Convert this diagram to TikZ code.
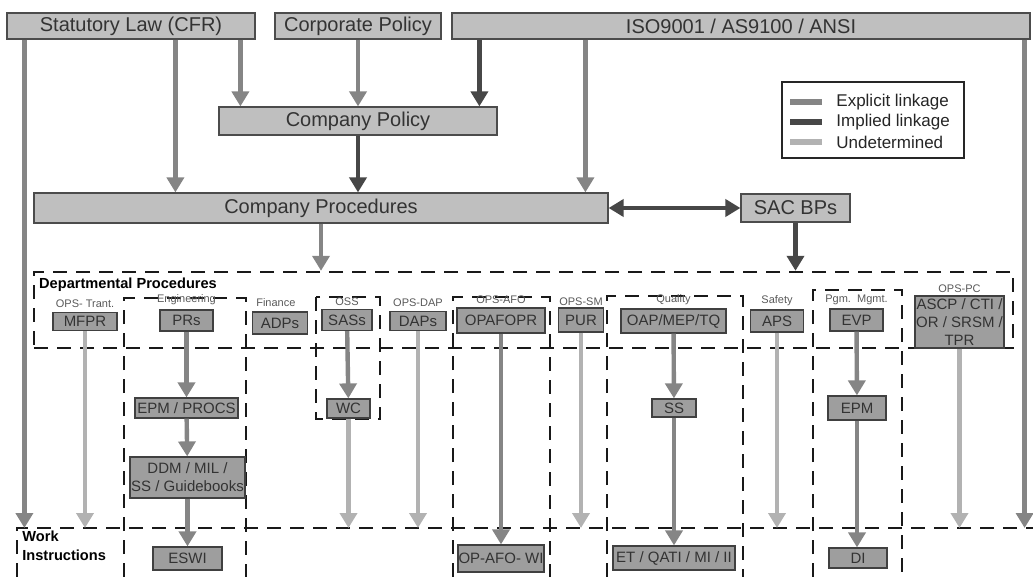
\documentclass[tikz,border=0pt]{standalone}
\usepackage{fontspec}
\setmainfont{Liberation Sans}
\usepackage{tikz}
\usetikzlibrary{arrows.meta}
\usetikzlibrary{positioning}
\tikzstyle{topbox}=[draw=black!70,fill=black!25,line width=0.6pt,inner sep=0pt,text=black!80,font=\fontsize{10}{12}\selectfont]
\tikzstyle{deptbox}=[draw=black!75,fill=black!38,line width=0.6pt,inner sep=0pt,text=black!80,align=center,font=\fontsize{7.5}{9}\selectfont]
\tikzstyle{deptname}=[inner sep=0pt,text=black!65,font=\fontsize{5.5}{6}\selectfont]
\tikzstyle{regionname}=[inner sep=0pt,align=left,font=\bfseries\fontsize{7.3}{9.5}\selectfont]
\tikzstyle{region}=[draw=black!90,line width=1.2pt,dash pattern=on 7pt off 4.5pt]
\tikzstyle{legendbox}=[draw=black!85,fill=white,line width=0.6pt,inner sep=0pt]
\tikzstyle{legendtext}=[inner sep=0pt,text=black!85,font=\fontsize{8.5}{10}\selectfont]
\tikzstyle{explicit}=[->,>={Triangle[width=8.5pt,length=7.5pt]},draw=black!48,line width=2.2pt]
\tikzstyle{implied}=[->,>={Triangle[width=8.5pt,length=7.5pt]},draw=black!72,line width=2.2pt]
\tikzstyle{undet}=[->,>={Triangle[width=8.5pt,length=7.5pt]},draw=black!30,line width=2.2pt]
\begin{document}
\begin{tikzpicture}[x=0.5pt,y=-0.5pt]
\useasboundingbox (0,0) rectangle (1033,577);
%Regions
\node[region,minimum width=489.5pt,minimum height=38pt] (dept) at (523.5,310) {};
\node[regionname,anchor=north west] (deptlabel) at ([xshift=3pt,yshift=-3.5pt]dept.north west) {Departmental Procedures};
\coordinate (wi) at (17,528);
\draw[region] (17,577) -- (wi) -- (1033,528);
\node[regionname,anchor=north west] (wilabel) at (22,531) {Work\\Instructions};
\draw[region] (124,577) -- (124,298) -- (246,298) -- (246,577);
\draw[region] (316,297) rectangle (380,419);
\draw[region] (453,577) -- (453,297) -- (550,297) -- (550,577);
\draw[region] (607,577) -- (607,296) -- (743,296) -- (743,577);
\draw[region] (813,577) -- (813,290) -- (902,290) -- (902,577);
%Top
\node[topbox,minimum width=124pt,minimum height=13pt] (stat) at (131,26) {Statutory Law (CFR)};
\node[topbox,minimum width=83pt,minimum height=13pt] (corp) at (358,26) {Corporate Policy};
\node[topbox,minimum width=289pt,minimum height=13pt] (iso) at (741,26) {ISO9001 / AS9100 / ANSI};
\node[topbox,minimum width=139pt,minimum height=14pt] (cpol) at (358,121) {Company Policy};
\node[topbox,minimum width=287pt,minimum height=15pt] (cproc) at (321,208) {Company Procedures};
\node[topbox,minimum width=54.5pt,minimum height=14pt] (sac) at (795.5,208) {SAC BPs};
%Legend
\node[legendbox,minimum width=91pt,minimum height=38pt] (legend) at (873,120) {};
\draw[draw=black!48,line width=3pt] (790,102) -- (822,102);
\draw[draw=black!72,line width=3pt] (790,122) -- (822,122);
\draw[draw=black!30,line width=3pt] (790,142) -- (822,142);
\node[legendtext,anchor=west] (lexplicit) at (836,102) {Explicit linkage};
\node[legendtext,anchor=west] (limplied) at (836,122) {Implied linkage};
\node[legendtext,anchor=west] (lundet) at (836,142) {Undetermined};
%Departments
\node[deptbox,minimum width=32pt,minimum height=9pt] (mfpr) at (85,321.5) {MFPR};
\node[deptbox,minimum width=26.5pt,minimum height=10.5pt] (prs) at (186.5,320.5) {PRs};
\node[deptbox,minimum width=27.5pt,minimum height=11pt] (adps) at (280,323) {ADPs};
\node[deptbox,minimum width=25pt,minimum height=10.5pt] (sass) at (347,320) {SASs};
\node[deptbox,minimum width=28pt,minimum height=9.5pt] (daps) at (418,321) {DAPs};
\node[deptbox,minimum width=44pt,minimum height=12.5pt] (opafopr) at (501,320.5) {OPAFOPR};
\node[deptbox,minimum width=22.5pt,minimum height=12pt] (pur) at (581,320) {PUR};
\node[deptbox,minimum width=52.5pt,minimum height=12pt] (oap) at (673.5,321) {OAP/MEP/TQ};
\node[deptbox,minimum width=26.5pt,minimum height=11pt] (aps) at (777,321) {APS};
\node[deptbox,minimum width=26.5pt,minimum height=11pt] (evp) at (856.5,320) {EVP};
\node[deptbox,minimum width=44.5pt,minimum height=26pt] (ascp) at (959.5,322) {ASCP / CTI /\\OR / SRSM /\\TPR};
\node[deptname,above=2pt of mfpr] (opstrant) {OPS- Trant.};
\node[deptname,above=2pt of prs] (eng) {Engineering};
\node[deptname,anchor=south west] (fin) at ([xshift=2pt,yshift=2pt]adps.north west) {Finance};
\node[deptname,above=1.5pt of sass] (oss) {OSS};
\node[deptname,above=2pt of daps] (opsdap) {OPS-DAP};
\node[deptname,above=1.5pt of opafopr] (opsafo) {OPS-AFO};
\node[deptname,above=0.5pt of pur] (opssm) {OPS-SM};
\node[deptname,above=1.5pt of oap] (quality) {Quality};
\node[deptname,above=1.5pt of aps] (safety) {Safety};
\node[deptname,above=1.5pt of evp] (pgm) {Pgm.\ \ Mgmt.};
\node[deptname,above=1pt of ascp] (opspc) {OPS-PC};
%Second level
\node[deptbox,minimum width=51.5pt,minimum height=10pt] (epmprocs) at (186.5,408) {EPM / PROCS};
\node[deptbox,minimum width=57.5pt,minimum height=20.5pt] (ddm) at (187.5,477.5) {DDM / MIL /\\SS / Guidebooks};
\node[deptbox,minimum width=34.5pt,minimum height=11.5pt] (eswi) at (187.5,558.5) {ESWI};
\node[deptbox,minimum width=21.5pt,minimum height=9.5pt] (wc) at (348.5,408.5) {WC};
\node[deptbox,minimum width=43pt,minimum height=13.5pt] (opafowi) at (501,558.5) {OP-AFO- WI};
\node[deptbox,minimum width=22pt,minimum height=9pt] (ss) at (674,408) {SS};
\node[deptbox,minimum width=61pt,minimum height=12pt] (et) at (674,558) {ET / QATI / MI / II};
\node[deptbox,minimum width=29pt,minimum height=12pt] (epm) at (857,408) {EPM};
\node[deptbox,minimum width=29pt,minimum height=10pt] (di) at (858,558) {DI};
%Arrows
\draw[explicit] ([xshift=9pt]stat.south west) coordinate (s1) -- (s1 |- wi);
\draw[explicit] ([xshift=84.5pt]stat.south west) coordinate (s2) -- (s2 |- cproc.north);
\draw[explicit] ([xshift=117pt]stat.south west) coordinate (s3) -- (s3 |- cpol.north);
\draw[explicit] (corp) -- (cpol);
\draw[implied] ([xshift=14pt]iso.south west) coordinate (i1) -- (i1 |- cpol.north);
\draw[explicit] ([xshift=67pt]iso.south west) coordinate (i2) -- (i2 |- cproc.north);
\draw[explicit] ([xshift=-3pt]iso.south east) coordinate (i3) -- (i3 |- wi);
\draw[implied] (cpol) -- (cpol |- cproc.north);
\draw[explicit] (cproc.south) -- (cproc.south |- dept.north);
\draw[implied] (sac.south) -- (sac.south |- dept.north);
\draw[implied,<->,line width=2pt] (cproc.east) -- (sac.west);
\draw[undet] (mfpr.south) -- (mfpr.south |- wi);
\draw[explicit] (prs) -- (epmprocs);
\draw[explicit] (epmprocs) -- (ddm);
\draw[explicit] (ddm) -- (eswi);
\draw[explicit] (sass) -- (wc);
\draw[undet] (wc.south) -- (wc.south |- wi);
\draw[undet] (daps.south) -- (daps.south |- wi);
\draw[explicit] (opafopr) -- (opafowi);
\draw[undet] (pur.south) -- (pur.south |- wi);
\draw[explicit] (oap) -- (ss);
\draw[explicit] (ss) -- (et);
\draw[undet] (aps.south) -- (aps.south |- wi);
\draw[explicit] (evp) -- (epm);
\draw[explicit] (epm) -- (epm |- di.north);
\draw[undet] (ascp.south) -- (ascp.south |- wi);
\end{tikzpicture}
\end{document}
